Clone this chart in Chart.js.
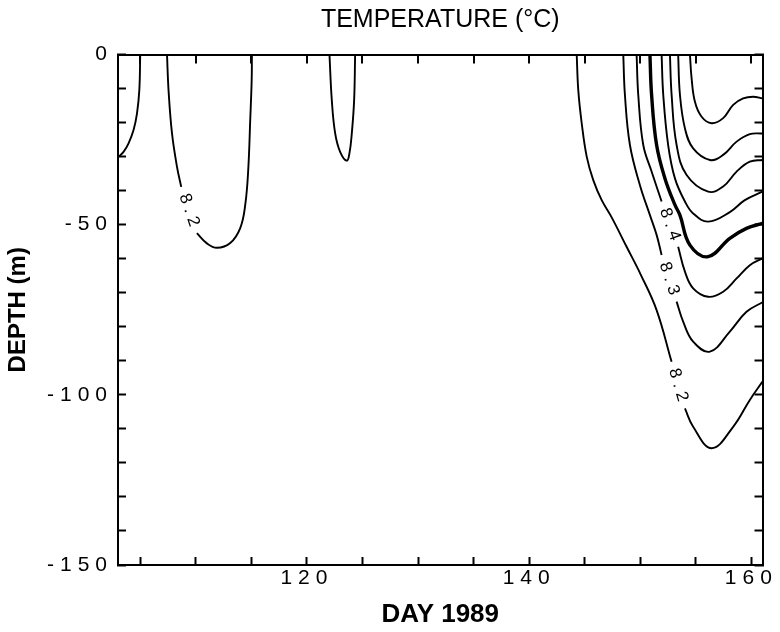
<!DOCTYPE html>
<html>
<head>
<meta charset="utf-8">
<title>Temperature 1989</title>
<script src="https://cdn.jsdelivr.net/npm/chart.js@4.4.1/dist/chart.umd.min.js"></script>
<style>
  html, body { margin: 0; padding: 0; background: #fff; }
</style>
</head>
<body>
<canvas id="tempChart" width="780" height="632"></canvas>
<script>
// axis range and ticks
const dayMin = 103, dayMax = 161;
const depthMin = -150, depthMax = 0;
const dayTicks = [105, 110, 115, 120, 125, 130, 135, 140, 145, 150, 155, 160];
const dayLabels = [120, 140, 160];
const depthTicks = [0, -10, -20, -30, -40, -50, -60, -70, -80, -90, -100, -110, -120, -130, -140, -150];
const depthLabels = [0, -50, -100, -150];

// contour lines (day, depth m); null breaks the line where its label goes
const edgeDay   = [105.0, 104.92, 104.71, 104.40, 103.95, 103.50, 103.0];
const edgeDepth = [0, -10.4, -17.3, -22.2, -26.1, -28.6, -30.2];

const loopDay   = [107.41, 107.55, 107.86, 108.31, 108.69, null, 110.10, 111.0, 111.9, 113.1, 114.0, 114.45, 114.72, 114.9, 115.03, 115.05];
const loopDepth = [0, -10.6, -23.2, -33.0, -38.9, null, -52.5, -55.5, -56.8, -55.4, -51.0, -44.2, -33.9, -19.2, -7.5, 0];

const dipDay   = [122.03, 122.24, 122.54, 122.99, 123.59, 123.83, 124.04, 124.25, 124.34];
const dipDepth = [0, -13.4, -23.1, -28.6, -31.2, -29.0, -23.2, -13.4, 0];

const day82   = [144.28, 144.42, 144.73, 145.18, 145.77, 146.53, 147.45, 148.77, 150.06, 151.47, 152.82, null, 154.02, 154.76, 156.42, 158.36, 159.86, 161];
const depth82 = [0, -10.4, -20.2, -30.0, -36.9, -42.8, -48.0, -56.5, -64.8, -75.1, -90.3, null, -104.0, -109.4, -115.7, -109.4, -101.5, -96.1];

const day83   = [148.47, 148.62, 149.07, 149.97, 150.87, 151.47, 151.92, null, 153.27, 153.86, 154.76, 156.27, 158.06, 159.56, 161];
const depth83 = [0, -11.9, -26.6, -38.4, -47.2, -53.0, -58.9, null, -72.6, -78.5, -84.4, -87.3, -81.4, -75.6, -72.8];

const day84   = [149.67, 149.82, 150.27, 151.02, 151.92, null, 153.41, 154.02, 154.76, 156.11, 157.46, 158.67, 159.86, 161];
const depth84 = [0, -11.9, -26.6, -34.4, -43.2, null, -56.5, -63.8, -68.7, -71.2, -69.7, -65.8, -61.9, -59.9];

const day85   = [150.87, 151.02, 151.47, 152.22, 153.12, 153.57, 154.47, 156.11, 158.06, 159.56, 161];
const depth85 = [0, -11.9, -26.6, -36.4, -44.2, -47.2, -56.0, -59.4, -54.0, -51.1, -49.6];

const day86   = [151.92, 152.07, 152.51, 153.12, 154.02, 154.76, 156.11, 158.06, 159.41, 161];
const depth86 = [0, -11.9, -26.6, -36.4, -43.2, -46.7, -49.1, -46.3, -42.8, -40.3];

const day87   = [152.67, 152.82, 153.27, 154.17, 156.11, 157.46, 158.67, 159.86, 161];
const depth87 = [0, -11.8, -26.6, -35.4, -40.3, -38.8, -34.4, -31.5, -31.0];

const day88   = [153.41, 153.57, 154.02, 154.76, 156.27, 157.46, 158.67, 159.86, 161];
const depth88 = [0, -11.8, -21.7, -27.6, -31.0, -29.5, -25.6, -23.4, -23.2];

const day89   = [154.47, 154.62, 154.92, 155.52, 156.42, 157.46, 158.36, 159.26, 160.16, 161];
const depth89 = [0, -7.0, -13.9, -18.3, -20.2, -18.7, -14.8, -12.9, -12.4, -12.9];

// inline contour labels
const labelLevels = [8.2, 8.2, 8.3, 8.4];
const labelDays   = [109.40, 153.41, 152.60, 152.67];
const labelDepths = [-45.7, -97.1, -65.8, -49.9];

const lines = [
  { level: 8.2, day: edgeDay, depth: edgeDepth },
  { level: 8.2, day: loopDay, depth: loopDepth },
  { level: 8.2, day: dipDay, depth: dipDepth },
  { level: 8.2, day: day82, depth: depth82 },
  { level: 8.3, day: day83, depth: depth83 },
  { level: 8.4, day: day84, depth: depth84 },
  { level: 8.5, day: day85, depth: depth85 },
  { level: 8.6, day: day86, depth: depth86 },
  { level: 8.7, day: day87, depth: depth87 },
  { level: 8.8, day: day88, depth: depth88 },
  { level: 8.9, day: day89, depth: depth89 }
];

const FONT = '"Liberation Sans", Arial, sans-serif';
const labelAngles = [71, 74, 72, 70];

Chart.defaults.font.family = FONT;
Chart.defaults.color = '#000';

const datasets = lines.map(l => ({
  label: l.level.toFixed(1),
  data: l.day.map((d, i) => ({ x: d, y: l.depth[i] })),
  showLine: true,
  spanGaps: false,
  borderColor: '#000',
  borderWidth: l.level === 8.5 ? 3.4 : 1.9,
  pointRadius: 0,
  tension: 0.4
}));

// labels sit in the gaps of their lines; tick digits get wide plotter spacing
const contourLabels = {
  id: 'contourLabels',
  afterDatasetsDraw(chart) {
    const { ctx, scales: { x, y } } = chart;
    ctx.save();
    ctx.font = '17px ' + FONT;
    ctx.letterSpacing = '5px';
    ctx.fillStyle = '#000';
    ctx.textAlign = 'center';
    ctx.textBaseline = 'middle';
    labelLevels.forEach((lv, i) => {
      ctx.save();
      ctx.translate(x.getPixelForValue(labelDays[i]), y.getPixelForValue(labelDepths[i]));
      ctx.rotate(labelAngles[i] * Math.PI / 180);
      ctx.fillText(lv.toFixed(1), 2.5, 0);
      ctx.restore();
    });
    ctx.restore();
    ctx.letterSpacing = '6px';
  },
  afterDraw(chart) {
    const { ctx, chartArea, scales: { x } } = chart;
    ctx.letterSpacing = '0px';
    // inward tick marks along the top edge, at the day ticks
    ctx.save();
    ctx.strokeStyle = '#000000';
    ctx.lineWidth = 2;
    ctx.setLineDash([]);
    for (const v of dayTicks) {
      const px = Math.round(x.getPixelForValue(v));
      ctx.beginPath();
      ctx.moveTo(px, chartArea.top);
      ctx.lineTo(px, chartArea.top + 9);
      ctx.stroke();
    }
    ctx.restore();
  }
};

function inwardTicks() {
  return { drawOnChartArea: false, drawTicks: true, tickLength: -8, tickColor: '#000', tickWidth: 2 };
}
const frame = { display: true, color: '#000', width: 2 };

new Chart(document.getElementById('tempChart'), {
  type: 'scatter',
  data: { datasets },
  options: {
    responsive: false,
    animation: false,
    devicePixelRatio: 1,
    layout: { padding: { left: 0, right: 17.5, top: 0, bottom: 0 } },
    plugins: {
      legend: { display: false },
      tooltip: { enabled: false },
      title: { display: false }
    },
    scales: {
      x: {
        type: 'linear', position: 'bottom', min: dayMin, max: dayMax,
        afterBuildTicks: s => { s.ticks = dayTicks.map(v => ({ value: v })); },
        afterFit: s => { s.height = 67; },
        grid: inwardTicks(),
        border: frame,
        ticks: {
          z: 1, autoSkip: false, maxRotation: 0, padding: 9,
          font: { size: 21 },
          callback: v => dayLabels.includes(v) ? String(v) : ''
        },
        title: {
          display: true, text: 'DAY 1989',
          font: { size: 26, weight: 'bold' },
          padding: { top: 0, bottom: 1.5 }
        }
      },
      // top edge of the frame, chart heading as its title
      x2: {
        type: 'linear', position: 'top', min: dayMin, max: dayMax,
        afterFit: s => { s.height = 54.5; },
        grid: { display: false },
        border: frame,
        ticks: { display: false },
        title: {
          display: true, text: 'TEMPERATURE (°C)',
          font: { size: 25, weight: 'normal' },
          padding: { top: 5, bottom: 0 }
        }
      },
      y: {
        type: 'linear', position: 'left', min: depthMin, max: depthMax,
        afterBuildTicks: s => { s.ticks = depthTicks.slice().reverse().map(v => ({ value: v })); },
        afterFit: s => { s.width = 118; },
        grid: inwardTicks(),
        border: frame,
        ticks: {
          z: 1, autoSkip: false, padding: 13,
          font: { size: 21 },
          callback: v => depthLabels.includes(v) ? String(v) : ''
        },
        title: {
          display: true, text: 'DEPTH (m)',
          font: { size: 24, weight: 'bold' },
          padding: { top: 4, bottom: 0 }
        }
      },
      y2: {
        type: 'linear', position: 'right', min: depthMin, max: depthMax,
        afterBuildTicks: s => { s.ticks = depthTicks.slice().reverse().map(v => ({ value: v })); },
        afterFit: s => { s.width = 0; },
        grid: inwardTicks(),
        border: frame,
        ticks: { display: false }
      }
    }
  },
  plugins: [contourLabels]
});
</script>
</body>
</html>
